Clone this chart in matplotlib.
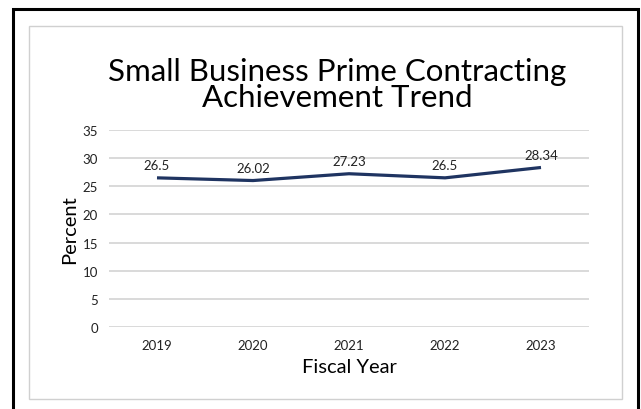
import matplotlib
matplotlib.use("Agg")
import matplotlib.pyplot as plt
from matplotlib.patches import Rectangle

years = ["2019", "2020", "2021", "2022", "2023"]
values = [26.5, 26.02, 27.23, 26.5, 28.34]
yticks = [0, 5, 10, 15, 20, 25, 30, 35]

plt.rcParams['font.family'] = ['Lato', 'DejaVu Sans']

W, H = 641, 410
fig = plt.figure(figsize=(W/100, H/100), dpi=100)

def fx(px): return px / W
def fy(py): return 1 - py / H

# outer black border
fig.patches.append(Rectangle((fx(13), fy(412)), fx(638) - fx(13), fy(10) - fy(412),
                             transform=fig.transFigure, fill=False, edgecolor='black', linewidth=2.2))
# inner gray border
fig.patches.append(Rectangle((fx(29), fy(400)), fx(622) - fx(29), fy(27) - fy(400),
                             transform=fig.transFigure, fill=False, edgecolor='#d0d0d0', linewidth=1.0))

ax = fig.add_axes([fx(109), fy(328), fx(589) - fx(109), fy(131) - fy(328)])
x = list(range(len(years)))
ax.plot(x, values, color='#1f3461', linewidth=2.3, solid_capstyle='butt')
for xi, v in zip(x, values):
    ax.annotate(f"{v:g}", (xi, v), xytext=(0, 5), textcoords='offset points',
                ha='center', va='bottom', fontsize=9.5, color='#222222')
ax.set_xlim(-0.5, len(years) - 0.5)
ax.set_ylim(0, 35)
ax.set_yticks(yticks)
ax.set_xticks(x)
ax.set_xticklabels(years)
ax.grid(axis='y', color='#d9d9d9', linewidth=1.4)
ax.set_axisbelow(True)
for s in ax.spines.values():
    s.set_visible(False)
ax.tick_params(length=0, labelsize=9.5, colors='#222222')
ax.tick_params(axis='x', pad=9)
ax.tick_params(axis='y', pad=8)
ax.set_ylabel("Percent", fontsize=14.5, color='black', labelpad=3)
ax.set_xlabel("Fiscal Year", fontsize=14.5, color='black', labelpad=5)

fig.text(fx(337), fy(85), "Small Business Prime Contracting\nAchievement Trend",
         ha='center', va='center', fontsize=22.5, linespacing=0.9, color='black')

fig.savefig("out.png", dpi=100)
